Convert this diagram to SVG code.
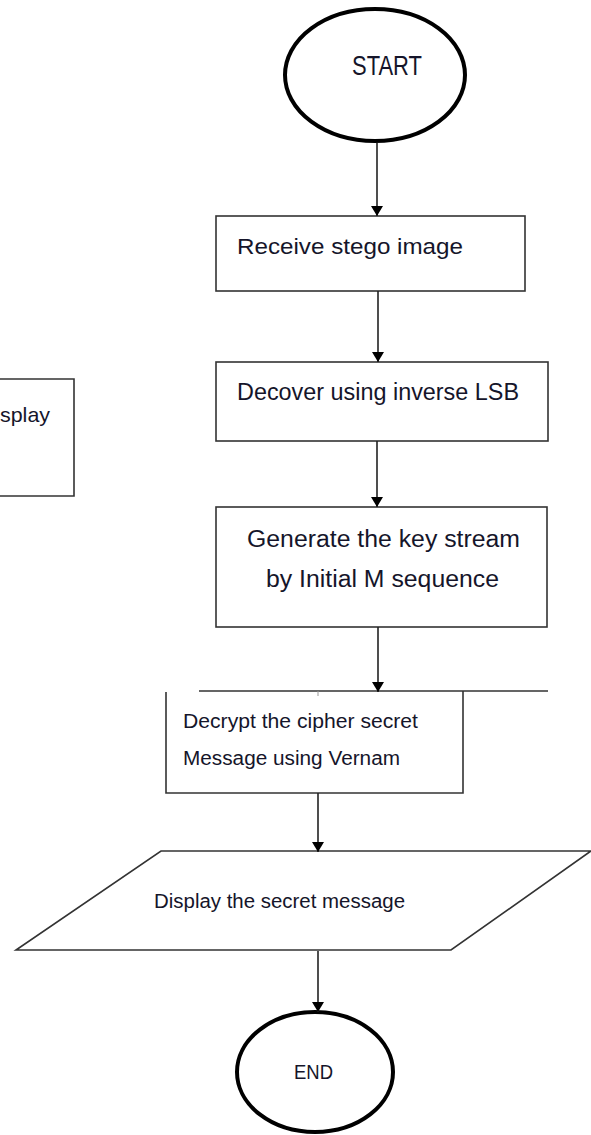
<svg xmlns="http://www.w3.org/2000/svg" width="591" height="1135" viewBox="0 0 591 1135">
  <style>
    .term { fill: #fff; stroke: #000; stroke-width: 4; }
    .box { fill: #fff; stroke: #333; stroke-width: 1.6; }
    .edge { fill: none; stroke: #222; stroke-width: 1.6; }
    .lbl { font-family: "Liberation Sans", Arial, sans-serif; fill: #15152a; }
  </style>
  <defs>
    <marker id="arrow" markerWidth="10" markerHeight="12" refX="10" refY="6" orient="auto" markerUnits="userSpaceOnUse">
      <path d="M0,0 L10,6 L0,12 Z" fill="#000"/>
    </marker>
  </defs>

  <rect width="591" height="1135" fill="#fff"/>

  <!-- partly visible box at the left edge -->
  <g id="display-side">
    <path class="box" d="M-2,379 H74 V496 H-2"/>
    <text class="lbl" x="0" y="422" font-size="21" textLength="50" lengthAdjust="spacingAndGlyphs">splay</text>
  </g>

  <g id="start">
    <ellipse class="term" cx="375" cy="75" rx="90" ry="66"/>
    <text class="lbl" x="352" y="75" font-size="27" textLength="70" lengthAdjust="spacingAndGlyphs">START</text>
  </g>

  <g id="receive">
    <rect class="box" x="216" y="216" width="309" height="75"/>
    <text class="lbl" x="237" y="254" font-size="22" textLength="226" lengthAdjust="spacingAndGlyphs">Receive stego image</text>
  </g>

  <g id="decover">
    <rect class="box" x="216" y="362" width="332" height="79"/>
    <text class="lbl" x="237" y="400" font-size="23" textLength="282" lengthAdjust="spacingAndGlyphs">Decover using inverse LSB</text>
  </g>

  <g id="keystream">
    <rect class="box" x="216" y="507" width="331" height="120"/>
    <text class="lbl" x="247" y="547" font-size="23" textLength="273" lengthAdjust="spacingAndGlyphs">Generate the key stream</text>
    <text class="lbl" x="266" y="587" font-size="23" textLength="233" lengthAdjust="spacingAndGlyphs">by Initial M sequence</text>
  </g>

  <g id="decrypt">
    <rect x="166" y="691" width="297" height="102" fill="#fff"/>
    <path class="box" d="M199,691 H548 M463,691 V793 H166 V692"/>
    <line x1="318" y1="691" x2="318" y2="696" stroke="#999" stroke-width="1"/>
    <text class="lbl" x="183" y="728" font-size="20" textLength="235" lengthAdjust="spacingAndGlyphs">Decrypt the cipher secret</text>
    <text class="lbl" x="183" y="765" font-size="20" textLength="217" lengthAdjust="spacingAndGlyphs">Message using Vernam</text>
  </g>

  <g id="show-message">
    <polygon class="box" points="161,851 591,851 451,950 16,950"/>
    <text class="lbl" x="154" y="908" font-size="20" textLength="251" lengthAdjust="spacingAndGlyphs">Display the secret message</text>
  </g>

  <g id="end">
    <ellipse class="term" cx="315" cy="1072" rx="78" ry="60"/>
    <text class="lbl" x="294" y="1079" font-size="21" textLength="39" lengthAdjust="spacingAndGlyphs">END</text>
  </g>

  <g id="connectors">
    <line class="edge" x1="377" y1="143" x2="377" y2="216" marker-end="url(#arrow)"/>
    <line class="edge" x1="378" y1="291" x2="378" y2="362" marker-end="url(#arrow)"/>
    <line class="edge" x1="377" y1="441" x2="377" y2="507" marker-end="url(#arrow)"/>
    <line class="edge" x1="378" y1="627" x2="378" y2="692" marker-end="url(#arrow)"/>
    <line class="edge" x1="318" y1="793" x2="318" y2="852" marker-end="url(#arrow)"/>
    <line class="edge" x1="318" y1="951" x2="318" y2="1012" marker-end="url(#arrow)"/>
  </g>
</svg>
